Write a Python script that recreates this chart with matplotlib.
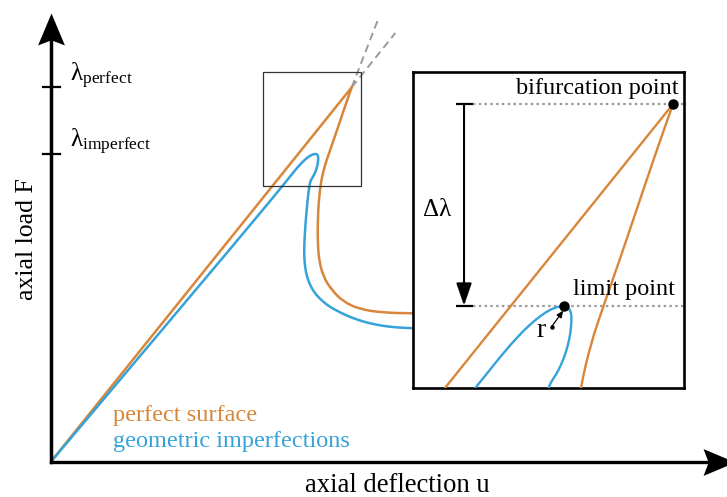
import matplotlib
matplotlib.use("Agg")
import matplotlib.pyplot as plt
from matplotlib.path import Path
from matplotlib.markers import MarkerStyle
from matplotlib.patches import Rectangle, PathPatch
from matplotlib.transforms import Affine2D

plt.rcParams['font.family'] = ['Liberation Serif', 'DejaVu Serif']
plt.rcParams['mathtext.fontset'] = 'custom'
plt.rcParams['mathtext.rm'] = 'Liberation Serif'
plt.rcParams['mathtext.it'] = 'Liberation Serif:italic'
plt.rcParams['mathtext.bf'] = 'Liberation Serif:bold'

ORANGE = '#D8873A'
BLUE = '#36A2DA'
GREY = '#9A9A9A'

# load levels, normalised by the bifurcation load of the perfect surface
lambda_perfect = 1.0
lambda_imperfect = 0.8225

# perfect surface: linear fundamental path up to the bifurcation point
perfect_pre_u = [0.0, 1.0]
perfect_pre_F = [0.0, 1.0]

# perfect surface: post-buckling branch leaving the bifurcation point
perfect_post_u = [1.0, 0.979, 0.9585, 0.9395, 0.9235, 0.910, 0.8992, 0.8947,
                  0.890, 0.888, 0.887, 0.8875, 0.8914, 0.9056, 0.9336, 0.972,
                  1.0276, 1.105, 1.199, 1.35, 1.50]
perfect_post_F = [1.0, 0.952, 0.903, 0.858, 0.8216, 0.7893, 0.7526, 0.7259,
                  0.690, 0.6547, 0.620, 0.5837, 0.539, 0.4945, 0.459, 0.4278,
                  0.4075, 0.3985, 0.3969, 0.395, 0.394]

# surface with geometric imperfections: limit-point path
imperfect_u = [0.0, 0.661, 0.7862, 0.8103, 0.8323, 0.8487, 0.8608, 0.8706,
               0.8805, 0.8860, 0.8887, 0.8887, 0.8876, 0.8849, 0.8816, 0.8772,
               0.8723, 0.8641, 0.8600, 0.8565, 0.8530, 0.8490, 0.8450, 0.8425,
               0.8420, 0.8450, 0.8520, 0.8640, 0.8800, 0.8980, 0.9200, 0.9450,
               0.9800, 1.0170, 1.0600, 1.1050, 1.1500, 1.2000, 1.3500, 1.5000]
imperfect_F = [0.0, 0.630, 0.7526, 0.7773, 0.7975, 0.8098, 0.8169, 0.8209,
               0.8225, 0.8205, 0.8151, 0.8081, 0.7984, 0.7878, 0.7790, 0.7702,
               0.7623, 0.7526, 0.7400, 0.7200, 0.6950, 0.6600, 0.6200, 0.5800,
               0.5500, 0.5200, 0.4920, 0.4680, 0.4480, 0.4330, 0.4180, 0.4060,
               0.3920, 0.3800, 0.3700, 0.3630, 0.3590, 0.3570, 0.3540, 0.3520]

# critical points
bifurcation_u, bifurcation_F = 1.0, lambda_perfect
limit_u, limit_F = 0.8805, lambda_imperfect

# tangent continuations above the bifurcation point
ext_fundamental_u = [1.0, 1.145]
ext_fundamental_F = [1.0, 1.145]
ext_branch_u = [1.0, 1.087]
ext_branch_F = [1.0, 1.18]

# zoomed window (inset limits) and the frame marking it in the main view
zoom_u = (0.71495, 1.01243)
zoom_F = (0.74969, 1.02829)
frame_u = (0.7053, 1.0309)
frame_F = (0.7366, 1.0408)


def smooth_path(us, Fs):
    """Quadratic B-spline path through the midpoints of the sampled curve."""
    pts = list(zip(us, Fs))
    verts = [pts[0]]
    codes = [Path.MOVETO]
    if len(pts) == 2:
        verts.append(pts[1])
        codes.append(Path.LINETO)
        return Path(verts, codes)
    mid = lambda a, b: ((a[0] + b[0]) / 2, (a[1] + b[1]) / 2)
    verts.append(mid(pts[0], pts[1]))
    codes.append(Path.LINETO)
    for i in range(1, len(pts) - 1):
        verts += [pts[i], mid(pts[i], pts[i + 1])]
        codes += [Path.CURVE3, Path.CURVE3]
    verts.append(pts[-1])
    codes.append(Path.LINETO)
    return Path(verts, codes)


def draw_curves(axis, lw):
    for us, Fs, col in [(perfect_pre_u, perfect_pre_F, ORANGE),
                        (perfect_post_u, perfect_post_F, ORANGE),
                        (imperfect_u, imperfect_F, BLUE)]:
        axis.add_patch(PathPatch(smooth_path(us, Fs), fill=False, ec=col,
                                 lw=lw, capstyle='round', joinstyle='round',
                                 zorder=3))


W, H = 727, 497
fig = plt.figure(figsize=(W / 100, H / 100), dpi=100)

# ---------------- main view ----------------
ax = fig.add_axes([50.7 / W, 35 / H, (W - 50.7) / W, 462 / H])
ax.set_xlim(0, 2.2468)
ax.set_ylim(0, 1.2330)
ax.axis('off')

# coordinate axes with stealth arrow heads
ax.plot([0, 2.24], [0, 0], color='k', lw=2.4, solid_capstyle='projecting',
        clip_on=False, zorder=5)
ax.plot([0, 0], [0, 1.15], color='k', lw=2.5, solid_capstyle='projecting',
        clip_on=False, zorder=5)
head = Path([(0, 0), (-1, 0.42), (-0.84, 0), (-1, -0.42), (0, 0)],
            [Path.MOVETO, Path.LINETO, Path.LINETO, Path.LINETO, Path.CLOSEPOLY])
ax.plot([2.2734], [0], marker=MarkerStyle(head), ms=46, mew=0, color='k',
        clip_on=False, zorder=6)
ax.plot([0], [1.1991], marker=MarkerStyle(head, transform=Affine2D().rotate_deg(90)),
        ms=46, mew=0, color='k', clip_on=False, zorder=6)

# load level ticks and labels
for lam, name in [(lambda_perfect, 'perfect'), (lambda_imperfect, 'imperfect')]:
    ax.plot([-0.027, 0.031], [lam, lam], color='k', lw=1.6, clip_on=False, zorder=5)
    ax.annotate(r'$\mathrm{\lambda}_{\mathrm{%s}}$' % name, xy=(0, lam),
                xytext=(13.9, 4.3), textcoords='offset points',
                ha='left', va='baseline', fontsize=18)

# tangent continuations
ax.plot(ext_fundamental_u, ext_fundamental_F, color=GREY, lw=1.4, dashes=(4, 2.5),
        clip_on=False)
ax.plot(ext_branch_u, ext_branch_F, color=GREY, lw=1.4, dashes=(4, 2.5),
        clip_on=False)

# load-deflection paths
draw_curves(ax, 1.8)

# frame of the zoomed region
ax.add_patch(Rectangle((frame_u[0], frame_F[0]), frame_u[1] - frame_u[0],
                       frame_F[1] - frame_F[0], fill=False, ec='#333333',
                       lw=0.9, zorder=4))

# curve labels and axis titles
ax.text(0.207, 0.1094, 'perfect surface', color=ORANGE, fontsize=17.5,
        ha='left', va='baseline')
ax.text(0.207, 0.040, 'geometric imperfections', color=BLUE, fontsize=17.5,
        ha='left', va='baseline')
ax.text(1.1505, -0.0801, 'axial deflection u', fontsize=19.2, ha='center',
        va='baseline', clip_on=False)
ax.text(-0.0588, 0.5951, 'axial load F', fontsize=18.5, rotation=90,
        rotation_mode='anchor', ha='center', va='baseline', clip_on=False)

# ---------------- zoomed view ----------------
axin = fig.add_axes([413 / W, (H - 388.3) / H, 271.3 / W, 316.3 / H], zorder=10)
axin.set_xlim(*zoom_u)
axin.set_ylim(*zoom_F)
axin.set_xticks([])
axin.set_yticks([])
axin.set_facecolor('white')
for sp in axin.spines.values():
    sp.set_linewidth(1.9)
    sp.set_color('k')

draw_curves(axin, 1.7)

# reference levels
dim_u = 0.7709
bar_u = (0.7621, 0.7807)
for lam in (lambda_perfect, lambda_imperfect):
    axin.plot([bar_u[1], zoom_u[1]], [lam, lam], color=GREY, lw=1.6,
              dashes=(1.1, 1.5), zorder=2)
    axin.plot(bar_u, [lam, lam], color='k', lw=1.6, solid_capstyle='butt')

# knock-down between the two critical loads
axin.annotate('', xy=(dim_u, lambda_imperfect), xytext=(dim_u, lambda_perfect),
              arrowprops=dict(arrowstyle='-|>,head_length=1.37,head_width=0.47',
                              color='k', lw=1.5, shrinkA=0, shrinkB=0,
                              mutation_scale=10))
axin.text(0.0369, 0.5447, 'Δλ', transform=axin.transAxes, fontsize=18,
          ha='left', va='baseline')

# critical points
axin.plot([bifurcation_u], [bifurcation_F], 'o', color='k', ms=6.5, zorder=5)
axin.plot([limit_u], [limit_F], 'o', color='k', ms=6.5, zorder=5)
axin.text(0.9805, 0.9305, 'bifurcation point', transform=axin.transAxes,
          fontsize=17.5, ha='right', va='baseline')
axin.text(0.9657, 0.2934, 'limit point', transform=axin.transAxes,
          fontsize=17.5, ha='right', va='baseline')

# curvature radius at the limit point
r_tail = (0.867, 0.804)
r_head = (0.8797, 0.8181)
axin.annotate('', xy=r_head, xytext=r_tail,
              arrowprops=dict(arrowstyle='-|>,head_length=0.5,head_width=0.22',
                              color='k', lw=0.9, shrinkA=0, shrinkB=0,
                              mutation_scale=8))
axin.plot([r_tail[0]], [r_tail[1]], 'o', color='k', ms=2.2)
axin.text(0.457, 0.1622, 'r', transform=axin.transAxes, fontsize=20,
          ha='left', va='baseline')

fig.savefig('out.png', dpi=100)
